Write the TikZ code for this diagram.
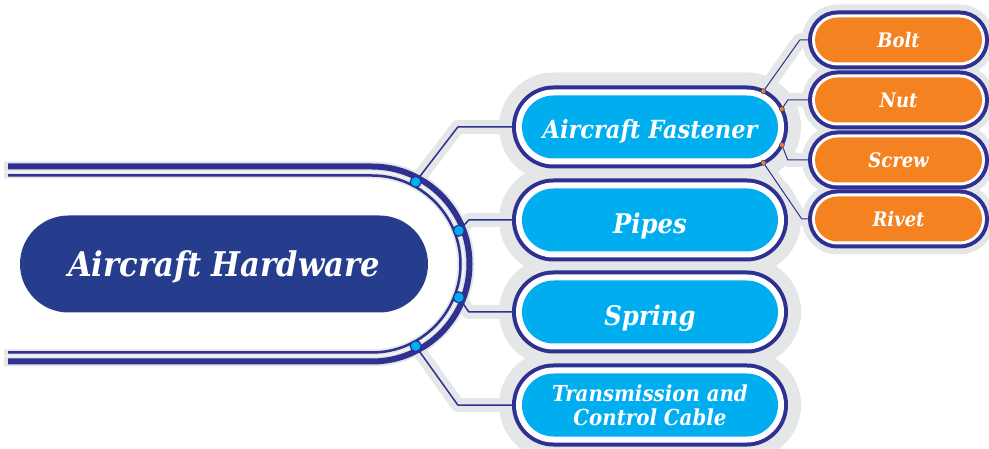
\documentclass[tikz,border=0pt]{standalone}
\usepackage{fontspec}
\setmainfont{DejaVu Serif Condensed}
\usetikzlibrary{shapes.misc, positioning, calc, backgrounds}

\definecolor{hwNavy}{RGB}{38,61,141}
\definecolor{hwRing}{RGB}{46,49,146}
\definecolor{hwCyan}{RGB}{0,174,239}
\definecolor{hwOrange}{RGB}{244,130,32}
\definecolor{hwHalo}{RGB}{229,230,232}

\newcommand{\hwtext}[2]{\fontsize{#1}{#2}\selectfont\bfseries\itshape}

\tikzset{
  every node/.style={text=white, align=center},
  root/.style={rounded rectangle, inner sep=0pt, fill=hwNavy,
    minimum width=408pt, minimum height=97pt,
    text height=24.5pt, text depth=0pt, font=\hwtext{34}{40}},
  topicbox/.style={rounded rectangle, inner sep=0pt, minimum width=256pt, minimum height=63pt},
  partbox/.style={rounded rectangle, inner sep=0pt, minimum width=167pt, minimum height=45pt},
  topic/.style={topicbox, fill=hwCyan,
    preaction={draw=hwRing, line width=20pt},
    preaction={draw=white, line width=12pt}},
  part/.style={partbox, fill=hwOrange,
    text height=16pt, text depth=0pt, font=\hwtext{20}{24},
    preaction={draw=hwRing, line width=14pt},
    preaction={draw=white, line width=6pt}},
  oneline/.style={text height=#1, text depth=0pt},
  halo/.style={draw=hwHalo, fill=hwHalo, line width=#1},
  link/.style={draw=hwRing, line width=1.5pt, line join=round, shorten >=8pt},
  twig/.style={draw=hwRing, line width=1pt, line join=round, shorten >=5pt},
  linkhalo/.style={draw=hwHalo, line width=14pt, line join=round},
  joint/.style={circle, fill=hwCyan, draw=hwRing, line width=1.2pt, minimum size=11pt, inner sep=0pt},
  pin/.style={circle, fill=hwOrange, draw=hwRing, line width=0.5pt, minimum size=5pt, inner sep=0pt}
}

\begin{document}
\begin{tikzpicture}[x=1pt, y=-1pt]
  \useasboundingbox (0,0) rectangle (989,449);

  % bracket round the root
  \coordinate (c) at (372,264);
  \draw[hwHalo, line width=10pt] (4,166.5) -- (372,166.5) arc[start angle=-90, end angle=90, radius=97.5] -- (4,361.5);
  \draw[hwHalo, line width=6pt] (4,175.5) -- (372,175.5) arc[start angle=-90, end angle=90, radius=88.5] -- (4,352.5);
  \draw[hwRing, line width=6pt] (8,166.5) -- (372,166.5) arc[start angle=-90, end angle=90, radius=97.5] -- (8,361.5);
  \draw[hwRing, line width=2.5pt] (8,175.5) -- (372,175.5) arc[start angle=-90, end angle=90, radius=88.5] -- (8,352.5);

  \node[root] (hw) at (224,264) {Aircraft Hardware};

  \node[topic, oneline=24pt, font=\hwtext{25}{29}] (fast) at (650,127) {Aircraft Fastener};
  \node[topic, oneline=27pt, font=\hwtext{27}{32}] (pipes) at (650,220) {Pipes};
  \node[topic, oneline=27pt, font=\hwtext{27}{32}] (spring) at (650,312) {Spring};
  \node[topic, font=\hwtext{22}{24}] (cable) at (650,405) {Transmission and\\Control Cable};

  \node[part] (bolt) at (898.5,40) {Bolt};
  \node[part] (nut) at (898.5,100) {Nut};
  \node[part] (screw) at (898.5,160) {Screw};
  \node[part] (rivet) at (898.5,219) {Rivet};

  \foreach \a/\n in {-62/j1, -21/j2, 21/j3, 62/j4}
    \node[joint] (\n) at ($(c)+(\a:93)$) {};

  \coordinate (fc) at ($(fast.east)+(-31.5,0)$);
  \foreach \a/\n in {-65/p1, -27/p2, 27/p3, 65/p4}
    \node[pin] (\n) at ($(fc)+(\a:39.5)$) {};

  \begin{scope}[on background layer]
    \foreach \n in {fast, pipes, spring, cable}
      \node[topicbox, halo=46pt] at (\n) {};
    \foreach \n in {bolt, nut, screw, rivet}
      \node[partbox, halo=26pt] at (\n) {};
    \draw[linkhalo] (j1.center) -- ([xshift=-64pt]fast.west) -- (fast.west);
    \draw[linkhalo] (j2.center) -- ([xshift=-53pt]pipes.west) -- (pipes.west);
    \draw[linkhalo] (j3.center) -- ([xshift=-53pt]spring.west) -- (spring.west);
    \draw[linkhalo] (j4.center) -- ([xshift=-64pt]cable.west) -- (cable.west);
    \draw[linkhalo] (p1.center) -- ([xshift=-15pt]bolt.west) -- (bolt.west);
    \draw[linkhalo] (p2.center) -- ([xshift=-27pt]nut.west) -- (nut.west);
    \draw[linkhalo] (p3.center) -- ([xshift=-27pt]screw.west) -- (screw.west);
    \draw[linkhalo] (p4.center) -- ([xshift=-13pt]rivet.west) -- (rivet.west);
  \end{scope}

  \draw[link] (j1) -- ([xshift=-64pt]fast.west) -- (fast.west);
  \draw[link] (j2) -- ([xshift=-53pt]pipes.west) -- (pipes.west);
  \draw[link] (j3) -- ([xshift=-53pt]spring.west) -- (spring.west);
  \draw[link] (j4) -- ([xshift=-64pt]cable.west) -- (cable.west);

  \draw[twig] (p1) -- ([xshift=-15pt]bolt.west) -- (bolt.west);
  \draw[twig] (p2) -- ([xshift=-27pt]nut.west) -- (nut.west);
  \draw[twig] (p3) -- ([xshift=-27pt]screw.west) -- (screw.west);
  \draw[twig] (p4) -- ([xshift=-13pt]rivet.west) -- (rivet.west);
\end{tikzpicture}
\end{document}
